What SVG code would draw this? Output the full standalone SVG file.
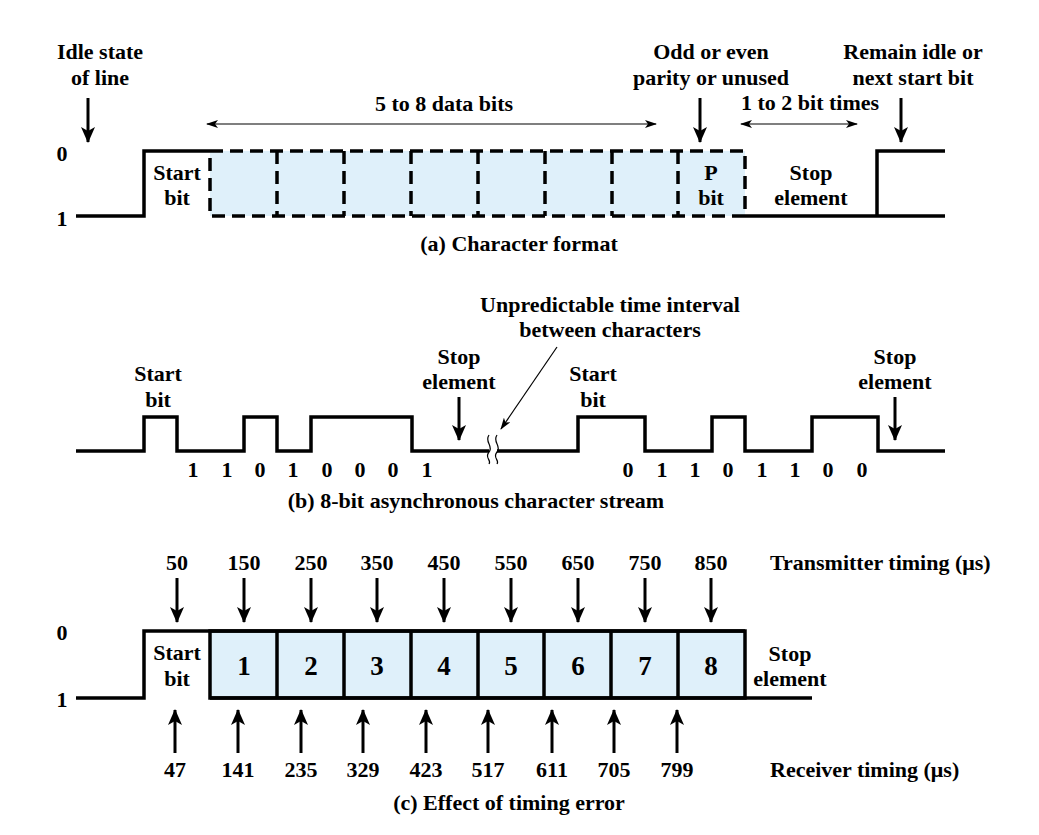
<svg xmlns="http://www.w3.org/2000/svg" width="1039" height="835" viewBox="0 0 1039 835">
<style>
text{font-family:"Liberation Serif","Times New Roman",serif;font-weight:bold;font-size:22px;fill:#000;text-anchor:middle}
.st{text-anchor:start}
.big{font-size:27px}
.sig{fill:none;stroke:#000;stroke-width:3.5;stroke-linejoin:miter;stroke-linecap:butt}
.dash{fill:#dff0fa;stroke:#000;stroke-width:3.5;stroke-dasharray:13 7}
.dl{fill:none;stroke:#000;stroke-width:3.5;stroke-dasharray:13 7}
.cell{fill:#dff0fa;stroke:#000;stroke-width:3.5}
.arr{stroke:#000;stroke-width:3;fill:none;marker-end:url(#ah)}
.thin{stroke:#000;stroke-width:1.2;fill:none}
</style>
<defs>
<marker id="ah" markerUnits="userSpaceOnUse" viewBox="0 0 16 14" refX="15" refY="7" markerWidth="16" markerHeight="14" orient="auto">
<path d="M0,0 L16,7 L0,14 L4,7 Z" fill="#000"/>
</marker>
<marker id="th" markerUnits="userSpaceOnUse" viewBox="0 0 12 8" refX="11" refY="4" markerWidth="12" markerHeight="8" orient="auto">
<path d="M0,0 L12,4 L0,8 L3,4 Z" fill="#000"/>
</marker>
<marker id="ths" markerUnits="userSpaceOnUse" viewBox="0 0 12 8" refX="1" refY="4" markerWidth="12" markerHeight="8" orient="auto">
<path d="M12,0 L0,4 L12,8 L9,4 Z" fill="#000"/>
</marker>
</defs>

<!-- (a) Character format -->
<g id="a-signal">
<rect class="dash" x="210" y="151" width="535" height="65"/>
<path class="dl" d="M277,151 V216 M344,151 V216 M411,151 V216 M478,151 V216 M545,151 V216 M612,151 V216 M678,151 V216"/>
<path class="sig" d="M76,216 H144 V151 H210"/>
<path class="sig" d="M745,216 H877 V151 H945 M877,216 H945"/>
</g>
<g id="a-labels">
<text x="62" y="161">0</text>
<text x="62" y="226">1</text>
<text x="100" y="59">Idle state</text>
<text x="100" y="85">of line</text>
<text x="711" y="59">Odd or even</text>
<text x="711" y="85">parity or unused</text>
<text x="913" y="59">Remain idle or</text>
<text x="913" y="85">next start bit</text>
<text x="444" y="111">5 to 8 data bits</text>
<text x="810" y="110">1 to 2 bit times</text>
<text x="177" y="180">Start</text>
<text x="177" y="205">bit</text>
<text x="711" y="180">P</text>
<text x="711" y="205">bit</text>
<text x="811" y="180">Stop</text>
<text x="811" y="205">element</text>
<text x="519" y="251">(a) Character format</text>
</g>

<!-- (b) 8-bit asynchronous character stream -->
<g id="b-signal">
<path class="sig" d="M76,451 H144 V417 H177 V451 H244 V417 H277 V451 H311 V417 H412 V451 H489"/>
<path class="sig" d="M497,451 H578 V417 H645 V451 H712 V417 H745 V451 H812 V417 H878 V451 H945"/>
<path class="thin" stroke-width="1.5" d="M489,435 C484,442 494,446 489,452 C484,458 492,460 489,464 M497,435 C492,442 502,446 497,452 C492,458 500,460 497,464"/>
</g>
<g id="b-labels">
<text x="158" y="381">Start</text>
<text x="158" y="407">bit</text>
<text x="459" y="364">Stop</text>
<text x="459" y="389">element</text>
<text x="593" y="381">Start</text>
<text x="593" y="407">bit</text>
<text x="895" y="364">Stop</text>
<text x="895" y="389">element</text>
<text x="610" y="312">Unpredictable time interval</text>
<text x="610" y="337">between characters</text>
<text x="193" y="477">1</text><text x="227" y="477">1</text><text x="260" y="477">0</text><text x="293" y="477">1</text>
<text x="327" y="477">0</text><text x="360" y="477">0</text><text x="393" y="477">0</text><text x="427" y="477">1</text>
<text x="628" y="477">0</text><text x="662" y="477">1</text><text x="695" y="477">1</text><text x="728" y="477">0</text>
<text x="762" y="477">1</text><text x="795" y="477">1</text><text x="828" y="477">0</text><text x="862" y="477">0</text>
<text x="476" y="508">(b) 8-bit asynchronous character stream</text>
</g>

<!-- (c) Effect of timing error -->
<g id="c-signal">
<rect class="cell" x="210" y="631" width="535" height="67"/>
<path class="sig" d="M277,631 V698 M344,631 V698 M411,631 V698 M478,631 V698 M544,631 V698 M611,631 V698 M678,631 V698"/>
<path class="sig" d="M76,698 H144 V631 H745 M210,698 H812"/>
</g>
<g id="c-labels">
<text x="62" y="640">0</text>
<text x="62" y="707">1</text>
<text x="177" y="660">Start</text>
<text x="177" y="686">bit</text>
<text class="big" x="244" y="675">1</text>
<text class="big" x="311" y="675">2</text>
<text class="big" x="377" y="675">3</text>
<text class="big" x="444" y="675">4</text>
<text class="big" x="511" y="675">5</text>
<text class="big" x="578" y="675">6</text>
<text class="big" x="645" y="675">7</text>
<text class="big" x="711" y="675">8</text>
<text x="790" y="661">Stop</text>
<text x="790" y="686">element</text>
<text x="177" y="570">50</text><text x="244" y="570">150</text><text x="311" y="570">250</text>
<text x="377" y="570">350</text><text x="444" y="570">450</text><text x="511" y="570">550</text>
<text x="578" y="570">650</text><text x="645" y="570">750</text><text x="711" y="570">850</text>
<text class="st" x="770" y="570">Transmitter timing (μs)</text>
<text x="175" y="777">47</text><text x="238" y="777">141</text><text x="301" y="777">235</text>
<text x="363" y="777">329</text><text x="426" y="777">423</text><text x="488" y="777">517</text>
<text x="552" y="777">611</text><text x="614" y="777">705</text><text x="677" y="777">799</text>
<text class="st" x="770" y="777">Receiver timing (μs)</text>
<text x="509" y="810">(c) Effect of timing error</text>
</g>

<g id="connectors">
<path class="arr" d="M88,98 V142"/>
<path class="arr" d="M700,98 V142"/>
<path class="arr" d="M901,98 V142"/>
<path class="thin" d="M207,124 H656" marker-start="url(#ths)" marker-end="url(#th)"/>
<path class="thin" d="M741,124 H857" marker-start="url(#ths)" marker-end="url(#th)"/>
<path class="arr" d="M459,397 V440"/>
<path class="arr" d="M895,397 V440"/>
<path class="thin" d="M557,347 L501,429" marker-end="url(#th)"/>
<path class="arr" d="M177,578 V622"/>
<path class="arr" d="M244,578 V622"/>
<path class="arr" d="M311,578 V622"/>
<path class="arr" d="M377,578 V622"/>
<path class="arr" d="M444,578 V622"/>
<path class="arr" d="M511,578 V622"/>
<path class="arr" d="M578,578 V622"/>
<path class="arr" d="M645,578 V622"/>
<path class="arr" d="M711,578 V622"/>
<path class="arr" d="M175,753 V710"/>
<path class="arr" d="M238,753 V710"/>
<path class="arr" d="M301,753 V710"/>
<path class="arr" d="M363,753 V710"/>
<path class="arr" d="M426,753 V710"/>
<path class="arr" d="M488,753 V710"/>
<path class="arr" d="M552,753 V710"/>
<path class="arr" d="M614,753 V710"/>
<path class="arr" d="M677,753 V710"/>
</g>
</svg>
